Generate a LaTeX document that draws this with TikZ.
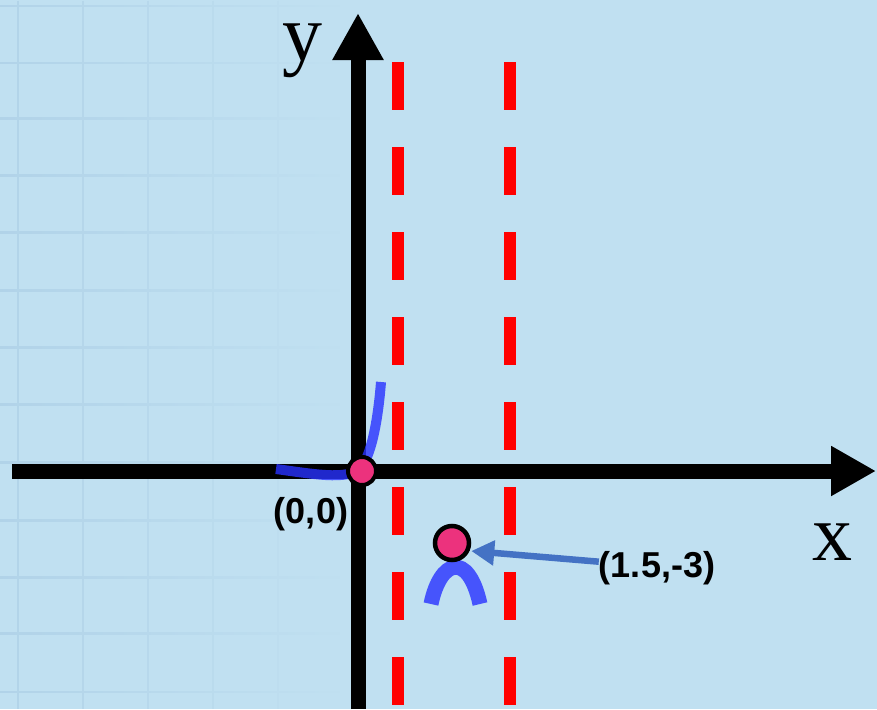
\documentclass[tikz,border=0pt]{standalone}
\usepackage{fontspec}
\usepackage{xcolor}
\usepackage{tikz}
\usetikzlibrary{arrows.meta, positioning, fadings}
\newfontfamily\labelfont{Liberation Sans}
\newfontfamily\axisfont{Liberation Serif}
\definecolor{skybg}{RGB}{192,224,241}
\definecolor{gridblue}{RGB}{176,210,232}
\definecolor{curveblue}{RGB}{40,50,255}
\definecolor{dotpink}{RGB}{236,50,125}
\definecolor{steelblue}{RGB}{68,114,196}
\tikzfading[name=gridfade, left color=transparent!10, right color=transparent!100]

\begin{document}
\begin{tikzpicture}[
    x=1pt, y=-1pt,
    gridline/.style={draw=gridblue, line width=2.5pt},
    axisline/.style={line width=15pt, draw=black},
    asymline/.style={draw=red, line width=12pt, dash pattern=on 48pt off 37pt},
    curve/.style={draw=curveblue, opacity=0.8, line cap=butt},
    ptdot/.style={circle, fill=dotpink, draw=black, inner sep=0pt},
    ptrarrow/.style={draw=steelblue, line width=6.5pt, -{Triangle[length=23pt, width=24pt]}},
    coordlabel/.style={font=\labelfont\bfseries\fontsize{36}{40}\selectfont, inner sep=0pt, anchor=base},
    axislabel/.style={font=\axisfont\fontsize{80}{90}\selectfont, inner sep=0pt, text height=38pt, text depth=18pt, anchor=base}
]
    % Background
    \fill[skybg] (0,0) rectangle (877,709);
    \useasboundingbox (0,0) rectangle (877,709);

    % Faint grid on the left
    \draw[gridline, path fading=gridfade]
        \foreach \gx in {18,83,148,213,278} {(\gx,0) -- (\gx,709)}
        \foreach \gy in {5,62,118,175,232,290,347,404,462,520,577,633,692} {(0,\gy) -- (340,\gy)};

    % Asymptotes
    \draw[asymline] (398,62) -- (398,709);
    \draw[asymline] (510,62) -- (510,709);

    % Axes
    \draw[axisline, -{Triangle[length=45pt, width=47pt]}] (12,471) -- (876,471);
    \draw[axisline, -{Triangle[length=47pt, width=48pt]}] (358,709) -- (358,13);
    \node[axislabel] (xlab) at (832,560) {x};
    \node[axislabel] (ylab) at (302,60) {y};

    % Curve pieces
    \draw[curve, line width=10pt] (276,469) .. controls (320,475) and (352,481) .. (363,465)
        .. controls (372,450) and (378,420) .. (381,382);
    \draw[curve, line width=15pt] (431,604) .. controls (440,560) and (468,550) .. (480,604);

    % Points
    \node[ptdot, minimum size=28pt, line width=4pt] (origin) at (362,471) {};
    \node[ptdot, minimum size=34pt, line width=4.5pt] (vertex) at (452,543) {};

    % Labels
    \node[coordlabel] (originlab) at (311,523) {(0,0)};
    \node[coordlabel] (vertexlab) at (657,577) {(1.5,-3)};
    \draw[ptrarrow] ([yshift=6pt]vertexlab.west) -- ([yshift=-8pt]vertex.east);
\end{tikzpicture}
\end{document}
